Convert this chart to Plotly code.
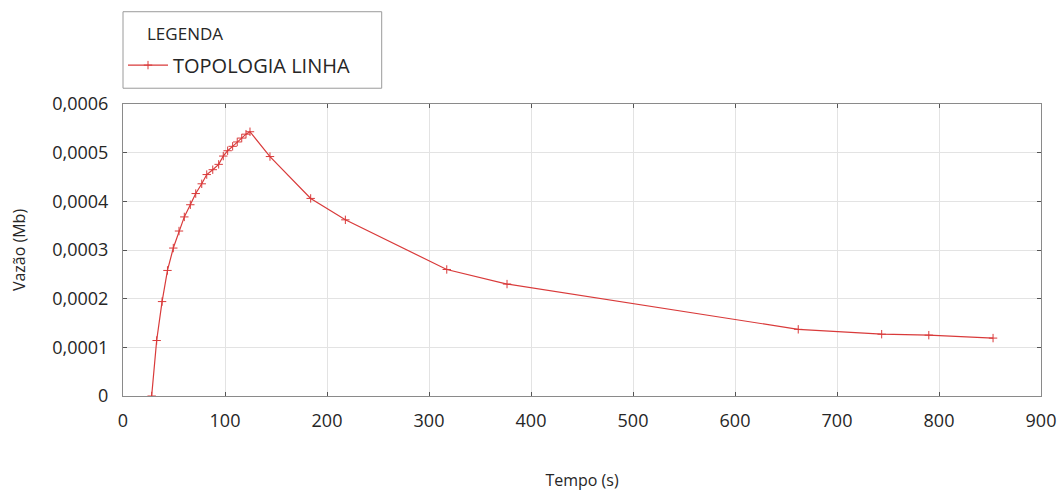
import plotly.graph_objects as go

# Data
tempo_s = [28.1, 33.0, 38.3, 43.6, 49.3, 54.9, 60.1, 66.0, 71.3, 77.2,
           82.1, 88.0, 93.8, 98.3, 102.6, 107.5, 112.0, 116.4, 120.6, 124.5,
           144.1, 184.0, 218.0, 317.4, 376.5, 662.0, 743.8, 790.0, 853.0]
vazao_mb = [0.0, 0.000114, 0.000194, 0.000258, 0.000304, 0.000339, 0.000368,
            0.000393, 0.000416, 0.000436, 0.000455, 0.000465, 0.000476,
            0.000493, 0.000504, 0.000513, 0.000522, 0.000530, 0.000538,
            0.000543, 0.000492, 0.000406, 0.000362, 0.000260, 0.000230,
            0.000137, 0.000127, 0.000125, 0.000119]

series_name = "TOPOLOGIA LINHA"
legend_title = "LEGENDA"
x_title = "Tempo (s)"
y_title = "Vazão (Mb)"

x_tickvals = [0, 100, 200, 300, 400, 500, 600, 700, 800, 900]
x_ticktext = ["0", "100", "200", "300", "400", "500", "600", "700", "800", "900"]
y_tickvals = [0, 0.0001, 0.0002, 0.0003, 0.0004, 0.0005, 0.0006]
y_ticktext = ["0", "0,0001", "0,0002", "0,0003", "0,0004", "0,0005", "0,0006"]

RED = "#d93a3a"
TXT = "#262626"
FONT = "Open Sans, Noto Sans, DejaVu Sans, sans-serif"

fig = go.Figure()
fig.add_trace(go.Scatter(
    x=tempo_s, y=vazao_mb, name=series_name, mode="lines+markers",
    line=dict(color=RED, width=1.2),
    marker=dict(symbol="cross-thin", size=6, line=dict(color=RED, width=1)),
    showlegend=True,
))

axis_common = dict(
    showline=True, linecolor="#8a8a8a", linewidth=1, mirror="ticks",
    ticks="inside", ticklen=4, tickcolor="#555555", tickwidth=1,
    showgrid=True, gridcolor="#e3e3e3", gridwidth=1, zeroline=False,
    automargin=False,
)

fig.update_layout(
    width=1063, height=493,
    margin=dict(l=123, r=22, t=104, b=97),
    paper_bgcolor="white", plot_bgcolor="white",
    font=dict(family=FONT, color=TXT, size=15),
    xaxis=dict(
        range=[0, 900], tickmode="array", tickvals=x_tickvals, ticktext=x_ticktext,
        tickfont=dict(family=FONT, size=18, color=TXT), ticklabelstandoff=8,
        title=dict(text=x_title, font=dict(family=FONT, size=16, color=TXT), standoff=44),
        **axis_common,
    ),
    yaxis=dict(
        range=[0, 0.0006], tickmode="array", tickvals=y_tickvals, ticktext=y_ticktext,
        tickfont=dict(family=FONT, size=18, color=TXT), ticklabelstandoff=10,
        title=dict(text=y_title, font=dict(family=FONT, size=16, color=TXT), standoff=22),
        **axis_common,
    ),
    legend=dict(
        x=0.0, xanchor="left", y=1.20, yanchor="top",
        bgcolor="rgba(0,0,0,0)", borderwidth=0,
        font=dict(family=FONT, size=20, color=TXT),
        itemwidth=40,
    ),
    annotations=[dict(text=legend_title, xref="paper", yref="paper",
                      x=0.024, y=1.243, xanchor="left", yanchor="middle",
                      showarrow=False, font=dict(family=FONT, size=17, color=TXT))],
    shapes=[dict(type="rect", xref="paper", yref="paper",
                 x0=0.0, x1=0.2818, y0=1.054, y1=1.316,
                 line=dict(color="#9a9a9a", width=1), fillcolor="rgba(0,0,0,0)")],
)

fig.write_html("out.html")
